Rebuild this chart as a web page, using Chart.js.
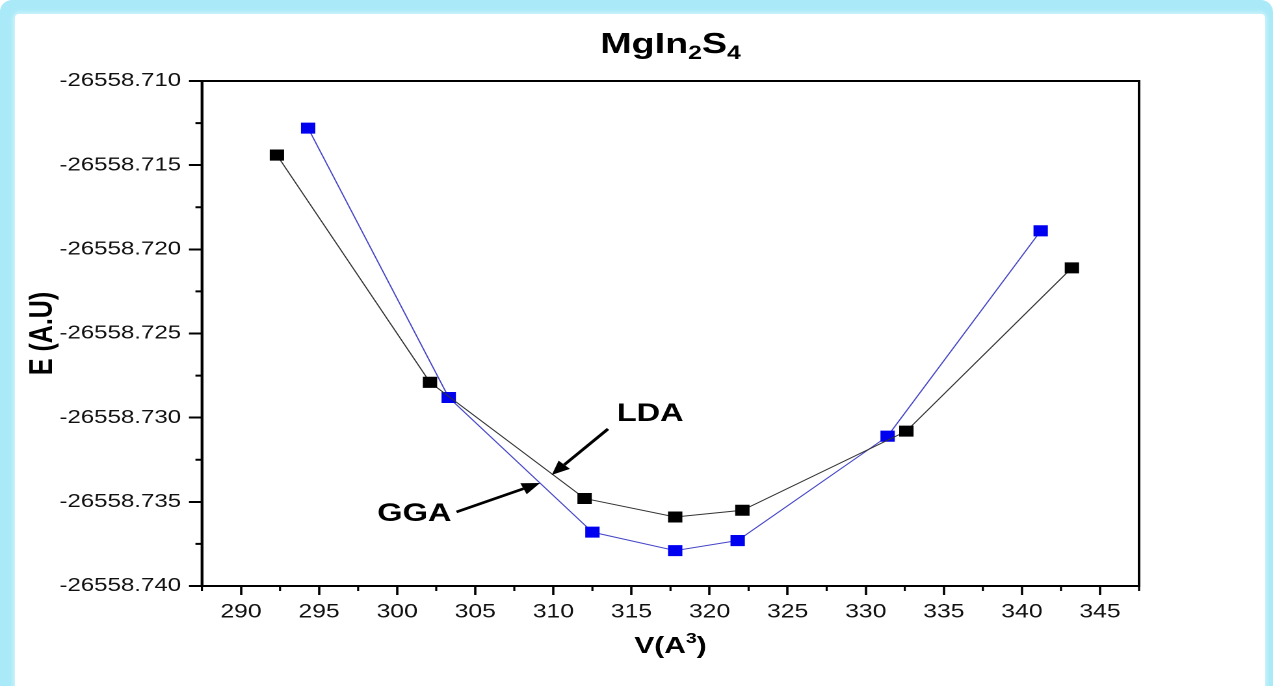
<!DOCTYPE html>
<html>
<head>
<meta charset="utf-8">
<script src="https://cdn.jsdelivr.net/npm/chart.js@4.4.1/dist/chart.umd.min.js"></script>
<style>
  html, body { margin: 0; padding: 0; background: #ffffff; overflow: hidden; }
  #frame { position: absolute; left: 0; top: 0; width: 1273px; height: 720px;
           background: #a9e9f8; border-radius: 12px; }
  #panel { position: absolute; left: 15px; top: 14px; width: 1250px; height: 700px;
           background: #ffffff; border-radius: 4px; box-shadow: 0 0 4px 2px rgba(210,245,252,0.9); }
  #wrap { position: absolute; left: 0; top: 0; width: 979px; height: 686px;
          transform-origin: 0 0; transform: scaleX(1.3003); }
</style>
</head>
<body>
<div id="frame"><div id="panel"></div></div>
<div id="wrap"><canvas id="c"></canvas></div>
<script>
// ---- data ----
const ldaV = [292.3, 302.1, 312.0, 317.8, 322.1, 332.6, 343.2];
const ldaE = [-26558.7144, -26558.7279, -26558.7348, -26558.7359, -26558.7355, -26558.7308, -26558.7211];
const ggaV = [294.3, 303.3, 312.5, 317.8, 321.8, 331.4, 341.2];
const ggaE = [-26558.7128, -26558.7288, -26558.7368, -26558.7379, -26558.7373, -26558.7311, -26558.7189];

const xTicks = [290, 295, 300, 305, 310, 315, 320, 325, 330, 335, 340, 345];
const xMinorTicks = [287.5, 292.5, 297.5, 302.5, 307.5, 312.5, 317.5, 322.5, 327.5, 332.5, 337.5, 342.5, 347.5];
const yTickLabels = ['-26558.740', '-26558.735', '-26558.730', '-26558.725', '-26558.720', '-26558.715', '-26558.710'];
const yMinorTicks = [-26558.7375, -26558.7325, -26558.7275, -26558.7225, -26558.7175, -26558.7125];
const xRange = [287.5, 347.5];
const yRange = [-26558.740, -26558.710];

const titleParts = [['MgIn', false], ['2', true], ['S', false], ['4', true]];
const xTitleParts = [['V(A', false], ['3', true], [')', false]];
const yTitle = 'E (A.U)';
// annotation labels & arrows (data coordinates)
const annotations = [
  { text: 'LDA', x: 316.2, y: -26558.72978, from: [313.5, -26558.73067], to: [309.9, -26558.7334] },
  { text: 'GGA', x: 301.1, y: -26558.73572, from: [303.8, -26558.7356], to: [309.15, -26558.73388] }
];

const FONT = "'Liberation Sans', Arial, sans-serif";
const toPts = (xs, ys) => xs.map((v, i) => ({ x: v, y: ys[i] }));

function drawParts(ctx, parts, cx, baseY, bigFont, smallFont, shift) {
  let w = 0;
  parts.forEach(([t, s]) => { ctx.font = s ? smallFont : bigFont; w += ctx.measureText(t).width; });
  let x = cx - w / 2;
  ctx.textBaseline = 'alphabetic'; ctx.textAlign = 'left';
  parts.forEach(([t, s]) => {
    ctx.font = s ? smallFont : bigFont;
    ctx.fillText(t, x, s ? baseY + shift : baseY);
    x += ctx.measureText(t).width;
  });
}

const decorPlugin = {
  id: 'decor',
  afterDraw(chart) {
    const ctx = chart.ctx, a = chart.chartArea;
    const sx = chart.scales.x, sy = chart.scales.y;
    ctx.save();
    // frame box
    ctx.strokeStyle = '#000'; ctx.lineWidth = 2;
    ctx.strokeRect(a.left, a.top, a.right - a.left, a.bottom - a.top);
    // minor ticks
    ctx.lineWidth = 1.6;
    ctx.beginPath();
    xMinorTicks.forEach(v => { const p = sx.getPixelForValue(v); ctx.moveTo(p, a.bottom); ctx.lineTo(p, a.bottom + 5); });
    ctx.stroke();
    ctx.lineWidth = 2;
    ctx.beginPath();
    yMinorTicks.forEach(v => { const p = sy.getPixelForValue(v); ctx.moveTo(a.left, p); ctx.lineTo(a.left - 5, p); });
    ctx.stroke();
    ctx.fillStyle = '#000';
    // title with subscripts
    drawParts(ctx, titleParts, (a.left + a.right) / 2, 53, 'bold 29px ' + FONT, 'bold 19px ' + FONT, 6);
    // x axis title with superscript
    drawParts(ctx, xTitleParts, (a.left + a.right) / 2, 653, 'bold 23px ' + FONT, 'bold 15px ' + FONT, -10);
    // annotations
    annotations.forEach(an => {
      ctx.font = 'bold 25px ' + FONT;
      ctx.textAlign = 'center'; ctx.textBaseline = 'middle';
      ctx.fillText(an.text, sx.getPixelForValue(an.x), sy.getPixelForValue(an.y));
      const x1 = sx.getPixelForValue(an.from[0]), y1 = sy.getPixelForValue(an.from[1]);
      const x2 = sx.getPixelForValue(an.to[0]), y2 = sy.getPixelForValue(an.to[1]);
      const ang = Math.atan2(y2 - y1, x2 - x1);
      const hl = 14, hw = 6;
      const bx = x2 - hl * Math.cos(ang), by = y2 - hl * Math.sin(ang);
      ctx.strokeStyle = '#000'; ctx.lineWidth = 2.6;
      ctx.beginPath(); ctx.moveTo(x1, y1); ctx.lineTo(bx, by); ctx.stroke();
      ctx.beginPath();
      ctx.moveTo(x2, y2);
      ctx.lineTo(bx + hw * Math.sin(ang), by - hw * Math.cos(ang));
      ctx.lineTo(bx - hw * Math.sin(ang), by + hw * Math.cos(ang));
      ctx.closePath(); ctx.fill();
    });
    ctx.restore();
  }
};

new Chart(document.getElementById('c'), {
  type: 'scatter',
  data: {
    datasets: [
      { label: 'LDA', data: toPts(ldaV, ldaE), showLine: true, borderColor: '#333333', borderWidth: 1,
        backgroundColor: '#000000', pointStyle: 'rect', pointRadius: 7.8, pointBorderWidth: 0, pointHoverRadius: 7.8 },
      { label: 'GGA', data: toPts(ggaV, ggaE), showLine: true, borderColor: '#4646c8', borderWidth: 1,
        backgroundColor: '#0000f0', pointStyle: 'rect', pointRadius: 7.8, pointBorderWidth: 0, pointHoverRadius: 7.8 }
    ]
  },
  options: {
    responsive: true,
    maintainAspectRatio: false,
    devicePixelRatio: 2,
    animation: false,
    events: [],
    layout: { padding: { left: 0, right: 103, top: 81, bottom: 0 } },
    plugins: { legend: { display: false }, title: { display: false }, tooltip: { enabled: false } },
    scales: {
      x: {
        type: 'linear', position: 'bottom', min: xRange[0], max: xRange[1],
        afterBuildTicks: s => { s.ticks = xTicks.map(v => ({ value: v })); },
        afterFit: s => { s.height = 100; },
        grid: { display: true, drawOnChartArea: false, drawTicks: true, tickLength: 9, tickColor: '#000', tickWidth: 1.8 },
        border: { display: true, color: '#000', width: 2 },
        ticks: { color: '#111', font: { family: FONT, size: 19 }, padding: 6, maxRotation: 0, autoSkip: false,
                 callback: v => String(v) },
        title: { display: false }
      },
      y: {
        type: 'linear', position: 'left', min: yRange[0], max: yRange[1],
        afterBuildTicks: s => { s.ticks = yTickLabels.map(t => ({ value: Number(t) })); },
        afterFit: s => { s.width = 155.3; },
        grid: { display: true, drawOnChartArea: false, drawTicks: true, tickLength: 10, tickColor: '#000', tickWidth: 2 },
        border: { display: true, color: '#000', width: 2 },
        ticks: { color: '#111', font: { family: FONT, size: 18.5 }, padding: 6, autoSkip: false,
                 callback: (v, i) => yTickLabels[i] },
        title: { display: true, text: yTitle, color: '#000', font: { family: FONT, size: 25, weight: 'bold' },
                 padding: { top: 18, bottom: 0 } }
      }
    }
  },
  plugins: [decorPlugin]
});
</script>
</body>
</html>
